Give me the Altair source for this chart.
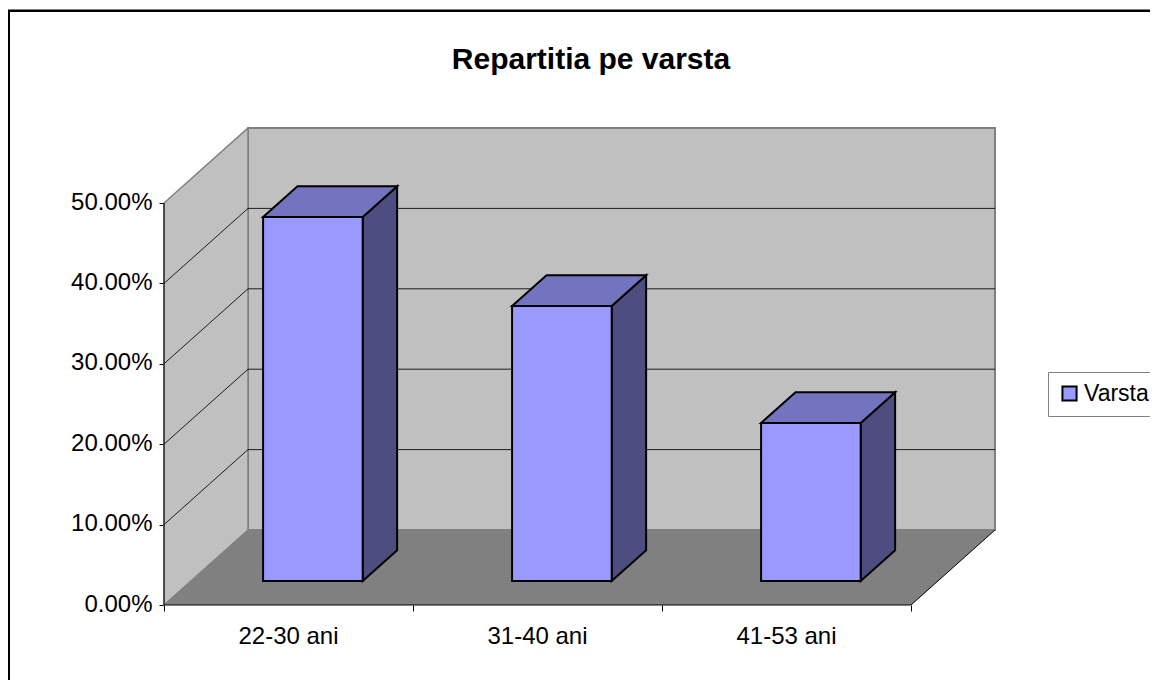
import altair as alt
import pandas as pd

categories = ["22-30 ani", "31-40 ani", "41-53 ani"]
values = [0.4527, 0.342, 0.1965]
series_name = "Varsta"
title_text = "Repartitia pe varsta"
y_ticks = [0.0, 0.1, 0.2, 0.3, 0.4, 0.5]
x_ticks = [0, 1, 2, 3]

# Oblique projection of the 3-D box, in model units
# u: category position, v: value, d: depth (0 = front, 1 = back)
DX = 84 / 249
DY = 75 / 804
BAR_U0 = 0.29
BAR_W = 0.40
BAR_D0 = 0.32
BAR_D1 = 0.73
NCAT = len(categories)
VMAX = y_ticks[-1]


def X(u, d=0.0):
    return u + d * DX


def Y(v, d=0.0):
    return v + d * DY


W, H = 1142, 672
OX, OY = 156, 597
xs = alt.Scale(domain=[-OX / 249, (W - OX) / 249], nice=False, zero=False)
ys = alt.Scale(domain=[-(H - OY) / 804, OY / 804], nice=False, zero=False)

FONT = "Liberation Sans"
x_axis = alt.Axis(values=x_ticks, labels=False, domain=False, grid=False, title=None, orient="bottom",
                  offset=-(H - OY), tickSize=6, tickColor="#000000", tickWidth=1)
y_axis = alt.Axis(values=y_ticks, format=".2%", domain=False, grid=False, title=None, orient="left",
                  offset=-OX, tickSize=5, tickColor="#000000", tickWidth=1, labelPadding=7,
                  labelFont=FONT, labelFontSize=24, labelColor="#000000", labelOffset=-1)
enc_x = alt.X("x:Q", scale=xs, axis=x_axis)
enc_y = alt.Y("y:Q", scale=ys, axis=y_axis)

# Walls and floor
back_wall = pd.DataFrame([dict(x=X(0, 1), x2=X(NCAT, 1), y=Y(0, 1), y2=Y(VMAX, 1))])
left_wall = pd.DataFrame([
    dict(x=X(0, 0), y=Y(0, 0), y2=Y(VMAX, 0)),
    dict(x=X(0, 1), y=Y(0, 1), y2=Y(VMAX, 1)),
])
floor = pd.DataFrame([
    dict(y=Y(0, 0), x=X(0, 0), x2=X(NCAT, 0)),
    dict(y=Y(0, 1), x=X(0, 1), x2=X(NCAT, 1)),
])
right_edge = pd.DataFrame([
    dict(x=X(NCAT, 0), y=Y(0, 0)),
    dict(x=X(NCAT, 1), y=Y(0, 1)),
])

layers = []
layers.append(alt.Chart(back_wall).mark_rect(fill="#C0C0C0", stroke="#808080", strokeWidth=2).encode(
    x=enc_x, x2="x2:Q", y=enc_y, y2="y2:Q"))
layers.append(alt.Chart(left_wall).mark_area(fill="#C0C0C0", stroke="#808080", strokeWidth=1.5, opacity=1).encode(
    x=enc_x, y=enc_y, y2="y2:Q"))

# Grid lines: along the left wall, then across the back wall
grid_rows = []
for t in y_ticks[1:-1]:
    grid_rows.append(dict(x=X(0, 0), y=Y(t, 0), t=t, o=0))
    grid_rows.append(dict(x=X(0, 1), y=Y(t, 1), t=t, o=1))
    grid_rows.append(dict(x=X(NCAT, 1), y=Y(t, 1), t=t, o=2))
layers.append(alt.Chart(pd.DataFrame(grid_rows)).mark_line(color="#000000", strokeWidth=1, opacity=0.85).encode(
    x=enc_x, y=enc_y, detail="t:N", order="o:Q"))

layers.append(alt.Chart(floor).mark_area(fill="#808080", orient="horizontal", opacity=1).encode(
    y=enc_y, x=enc_x, x2="x2:Q"))
layers.append(alt.Chart(right_edge).mark_line(color="#000000", strokeWidth=1).encode(x=enc_x, y=enc_y))

# Axis lines along the front edge
axis_rows = [
    dict(x=X(0), y=Y(VMAX), o=0),
    dict(x=X(0), y=Y(0), o=1),
    dict(x=X(NCAT), y=Y(0), o=2),
]
layers.append(alt.Chart(pd.DataFrame(axis_rows)).mark_line(color="#000000", strokeWidth=1).encode(
    x=enc_x, y=enc_y, order="o:Q"))

# Bars
front, top, side = [], [], []
for i, (c, v) in enumerate(zip(categories, values)):
    u0, u1 = i + BAR_U0, i + BAR_U0 + BAR_W
    front.append(dict(x=X(u0, BAR_D0), x2=X(u1, BAR_D0), y=Y(0, BAR_D0), y2=Y(v, BAR_D0), s=series_name))
    top.append(dict(y=Y(v, BAR_D0), x=X(u0, BAR_D0), x2=X(u1, BAR_D0), c=c))
    top.append(dict(y=Y(v, BAR_D1), x=X(u0, BAR_D1), x2=X(u1, BAR_D1), c=c))
    side.append(dict(x=X(u1, BAR_D0), y=Y(0, BAR_D0), y2=Y(v, BAR_D0), c=c))
    side.append(dict(x=X(u1, BAR_D1), y=Y(0, BAR_D1), y2=Y(v, BAR_D1), c=c))

BAR_STROKE = dict(stroke="#000000", strokeWidth=2, opacity=1)
layers.append(alt.Chart(pd.DataFrame(side)).mark_area(fill="#4D4D80", **BAR_STROKE).encode(
    x=enc_x, y=enc_y, y2="y2:Q", detail="c:N"))
layers.append(alt.Chart(pd.DataFrame(top)).mark_area(fill="#7373BF", orient="horizontal", **BAR_STROKE).encode(
    y=enc_y, x=enc_x, x2="x2:Q", detail="c:N"))
layers.append(alt.Chart(pd.DataFrame(front)).mark_rect(stroke="#000000", strokeWidth=2).encode(
    x=enc_x, x2="x2:Q", y=enc_y, y2="y2:Q",
    color=alt.Color("s:N", scale=alt.Scale(domain=[series_name], range=["#9999FF"]), legend=alt.Legend(
        title=None, orient="none", legendX=1040, legendY=364, symbolType="square", symbolSize=200,
        symbolStrokeColor="#000000", symbolStrokeWidth=2, labelFont=FONT, labelFontSize=23,
        labelColor="#000000", strokeColor="#808080", padding=10, fillColor="#FFFFFF",
        labelOffset=3, offset=0))))

# Category labels
label_df = pd.DataFrame([dict(x=i + 0.5, label=c) for i, c in enumerate(categories)])
layers.append(alt.Chart(label_df).mark_text(font=FONT, fontSize=24, color="#000000", baseline="middle").encode(
    x=enc_x, y=alt.value(629), text="label:N"))

# Outer frame, cropped at the picture edge as in the reference
layers.append(alt.Chart(pd.DataFrame([dict(a=0)])).mark_rule(color="#000000", strokeWidth=2.5).encode(
    x=alt.value(0), x2=alt.value(W), y=alt.value(2.7)))
layers.append(alt.Chart(pd.DataFrame([dict(a=0)])).mark_rule(color="#000000", strokeWidth=2).encode(
    x=alt.value(1), y=alt.value(2), y2=alt.value(H)))

chart = alt.layer(*layers).properties(
    width=W, height=H, padding=0,
    autosize=alt.AutoSizeParams(type="none"),
    background="#FFFFFF",
    title=alt.Title(title_text, font=FONT, fontSize=30, fontWeight="bold", color="#000000",
                    anchor="middle", dx=12, dy=67, offset=0),
).configure_view(stroke=None)

chart.save("out.html", embed_options={"renderer": "svg", "actions": False})
